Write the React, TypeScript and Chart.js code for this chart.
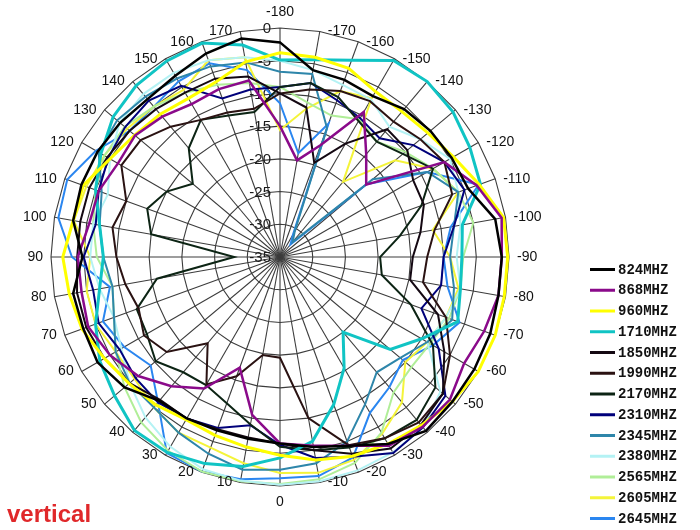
import React, { useEffect, useRef } from "react";
import { Chart, registerables } from "chart.js";

Chart.register(...registerables);

// Angle labels, clockwise starting at the top
const angleLabels = [
  -180, -170, -160, -150, -140, -130, -120, -110, -100, -90, -80, -70,
  -60, -50, -40, -30, -20, -10, 0, 10, 20, 30, 40, 50, 60, 70, 80, 90,
  100, 110, 120, 130, 140, 150, 160, 170,
];
const radialTicks = [0, -5, -10, -15, -20, -25, -30, -35];

const seriesNames = [
  "824MHZ", "868MHZ", "960MHZ", "1710MHZ", "1850MHZ", "1990MHZ", "2170MHZ",
  "2310MHZ", "2345MHZ", "2380MHZ", "2565MHZ", "2605MHZ", "2645MHZ",
];
const seriesColors = [
  "#000000", "#8a0a8a", "#ffff00", "#10c4c4", "#140812", "#2a1212", "#0c2414",
  "#00007a", "#2e86aa", "#b4f2f4", "#b0ee98", "#f4f43a", "#2a86f0",
];
const seriesWidths = [2.5, 2.5, 3, 3, 2, 2, 2, 2, 2, 2, 2, 2, 2];

const s824 = [-2.2, -6, -6.2, -6.6, -5.5, -5, -4.7, -4.4, -1.6, -1.1, -1.1, -0.8, -0.7, -0.6, -0.3, -2, -4.3, -5.5, -6.5, -6.8, -6.8, -6.5, -6.3, -4, -2.8, -3, -2.9, -4.8, -2.9, -2.7, -2.8, -3.1, -3.5, -3, -1.9, -1.1];
const s868 = [-15, -20, -16.8, -9.4, -14.5, -17.8, -6, -3, -0.6, -1.1, -1.1, -1.8, -2.5, -1.1, -1.1, -1.7, -4.3, -5.7, -6.5, -10.5, -17, -11.8, -9.2, -6.7, -5, -3.8, -4.2, -4.1, -5.4, -5.5, -6.4, -6.1, -7, -8, -7.7, -7.6];
const s960 = [-3.8, -4, -4.3, -5.8, -6, -5.5, -4.4, -2.6, -0.3, -0.2, -0.2, 0, 0, -0.6, -1.4, -2, -2.6, -3.5, -4.7, -5.5, -6, -6.3, -5.5, -4.9, -4, -2.8, -2.3, -1.8, -2.9, -3, -5, -6, -6.5, -7, -6.5, -4.7];
const s1710 = [-4.9, -4.4, -3, -0.3, 0, -0.5, -1.5, -2.4, -6.7, -7.2, -7, -6.1, -10, -13, -20, -15.4, -11, -6.4, -4.3, -2.5, -1.4, -0.5, -0.4, -2, -3.2, -5, -7, -8, -7, -5, -3.4, -1.7, -0.8, -0.4, -0.2, -2.1];
const s1850 = [-10, -11.8, -19.7, -15, -9.5, -9.6, -11.5, -11.6, -13.2, -14.7, -14.8, -9.3, -6, -2.5, -1.5, -1.2, -3, -5, -6.5, -7, -7, -6.5, -6.5, -5, -4, -3.5, -3.5, -4, -4, -4, -4.5, -5, -5.5, -6, -6, -7];
const s1990 = [-10, -9, -8, -7.5, -8, -7, -6, -7, -11, -12.5, -12.8, -8, -5, -2.5, -2, -3, -4.4, -10, -19.6, -19.8, -15.6, -12.5, -17.8, -12.4, -11, -12, -11, -10, -9, -10, -7, -7.2, -9, -10.8, -11.5, -12];
const s2170 = [-9, -8, -9, -11, -12, -10.5, -8, -12, -16.4, -19.7, -19.2, -13.7, -8, -4, -2.5, -3, -4, -5, -6, -9, -11.2, -12.4, -12, -10.2, -11.5, -11.7, -15.9, -28, -15, -13.4, -15, -17.6, -13.3, -10.8, -12, -12.5];
const s2310 = [-9, -8, -9.5, -10.5, -11.3, -8.4, -6, -5, -8, -10, -10, -12, -7, -2, -1, -0.4, -2.5, -3.8, -6.3, -8.9, -7.2, -6.5, -6, -6.2, -6.7, -5.5, -6, -5, -6.4, -5.5, -4.7, -4.1, -3.8, -4.8, -9.2, -9];
const s2345 = [-6.7, -6.6, -14, -30.5, -32, -16.5, -9, -6, -8, -9, -8, -7, -9, -11, -12, -9, -5, -3, -2.5, -2, -3, -4, -5, -5, -6, -8, -9, -8, -7, -6, -3, -2.5, -3, -3.5, -4, -4.8];
const s2380 = [-5, -6, -7, -7.2, -9, -7, -5, -6, -7, -8, -7, -8, -9, -3, -1, -0.5, -0.3, -0.2, -0.2, -0.3, -0.5, -1.5, -3, -5, -7, -8, -7, -6, -6, -7, -5, -3, -2.5, -2.5, -3, -4];
const s2565 = [-9, -11, -12, -10.7, -12, -10, -8, -6, -5, -7, -7, -7.5, -8.5, -8.8, -8, -4, -1.5, -0.5, -0.3, -0.2, -0.1, -0.8, -2, -4, -6, -8, -9, -7, -6, -5, -4, -4, -5, -6, -7, -8];
const s2605 = [-15.6, -12, -8, -7, -20, -12, -8, -6, -11.3, -9, -7.3, -8, -9, -10, -6, -3.8, -2, -1.5, -2, -3, -4, -4, -5, -6, -6, -5, -5, -6, -3, -3.5, -4, -4.5, -5, -5.5, -3, -4];
const s2645 = [-11.5, -18.9, -13.3, -31, -32.5, -17.7, -9, -2.7, -8.5, -10, -9, -5.8, -8, -10.5, -9, -7.5, -2.4, -1, -1.2, -0.5, -0.1, -0.4, -6, -9.2, -7.5, -6.2, -8.6, -3.2, -0.6, -0.4, -2.5, -5, -5, -4, -3.5, -6];

const seriesValues = [s824, s868, s960, s1710, s1850, s1990, s2170, s2310, s2345, s2380, s2565, s2605, s2645];

const sideTextPlugin = {
  id: "sideText",
  beforeDatasetsDraw(chart: any) {
    const scale = chart.scales.r;
    const ctx = chart.ctx;
    ctx.save();
    ctx.font = '15px "Liberation Sans", Arial, sans-serif';
    ctx.fillStyle = "#1a1a1a";
    ctx.textAlign = "right";
    ctx.textBaseline = "middle";
    radialTicks.forEach((t) => {
      const r = scale.getDistanceFromCenterForValue(t);
      ctx.fillText(String(t), scale.xCenter - 9, scale.yCenter - r + 1);
    });
    ctx.restore();
  },
  afterDraw(chart: any) {
    const scale = chart.scales.r;
    const ctx = chart.ctx;
    ctx.save();
    // angle labels
    ctx.font = '14px "Liberation Sans", Arial, sans-serif';
    ctx.fillStyle = "#111";
    ctx.textBaseline = "middle";
    const n = angleLabels.length;
    for (let i = 0; i < n; i++) {
      const p = scale.getPointPosition(i, scale.drawingArea);
      const deg = Math.round((i * 360) / n) % 360;
      let x = p.x;
      let y = p.y;
      if (deg === 0) {
        ctx.textAlign = "center";
        y -= 16;
      } else if (deg === 180) {
        ctx.textAlign = "center";
        y += 16;
      } else if (deg < 180) {
        ctx.textAlign = "left";
        x += 8;
      } else {
        ctx.textAlign = "right";
        x -= 8;
      }
      ctx.fillText(String(angleLabels[i]), x, y);
    }
    // legend
    ctx.font = 'bold 14px "Liberation Mono", "DejaVu Sans Mono", monospace';
    ctx.textAlign = "left";
    seriesNames.forEach((name, k) => {
      const y = 269.5 + k * 20.75;
      ctx.strokeStyle = seriesColors[k];
      ctx.lineWidth = 3;
      ctx.beginPath();
      ctx.moveTo(590, y);
      ctx.lineTo(615, y);
      ctx.stroke();
      ctx.fillStyle = "#111";
      ctx.fillText(name, 618, y + 0.5);
    });
    // caption
    ctx.font = 'bold 24px "Liberation Sans", Arial, sans-serif';
    ctx.fillStyle = "#e0282a";
    ctx.textBaseline = "alphabetic";
    ctx.fillText("vertical", 7, 522);
    ctx.restore();
  },
};

export default function App() {
  const ref = useRef<HTMLCanvasElement | null>(null);
  useEffect(() => {
    if (!ref.current) return;
    const chart = new Chart(ref.current, {
      type: "radar",
      data: {
        labels: angleLabels.map(String),
        datasets: seriesNames.map((name, k) => ({
          label: name,
          data: seriesValues[k],
          borderColor: seriesColors[k],
          backgroundColor: "transparent",
          borderWidth: seriesWidths[k],
          pointRadius: 0,
          pointHoverRadius: 0,
          tension: 0,
          fill: false,
        })),
      },
      options: {
        responsive: false,
        animation: false,
        events: [],
        layout: { padding: { left: 51, right: 191, top: 28, bottom: 44 } },
        plugins: {
          legend: { display: false },
          tooltip: { enabled: false },
          title: { display: false },
        },
        scales: {
          r: {
            min: -35,
            max: 0,
            startAngle: 0,
            ticks: { stepSize: 5, display: false },
            pointLabels: { display: false },
            grid: { color: "#3c3c3c", lineWidth: 1.1, circular: false },
            angleLines: { color: "#3c3c3c", lineWidth: 1.1 },
          },
        },
      },
      plugins: [sideTextPlugin],
    });
    return () => chart.destroy();
  }, []);
  return (
    <div style={{ position: "absolute", left: 0, top: 0, width: 700, height: 530, background: "#fff" }}>
      <canvas ref={ref} width={700} height={530} style={{ width: 700, height: 530, display: "block" }} />
    </div>
  );
}
